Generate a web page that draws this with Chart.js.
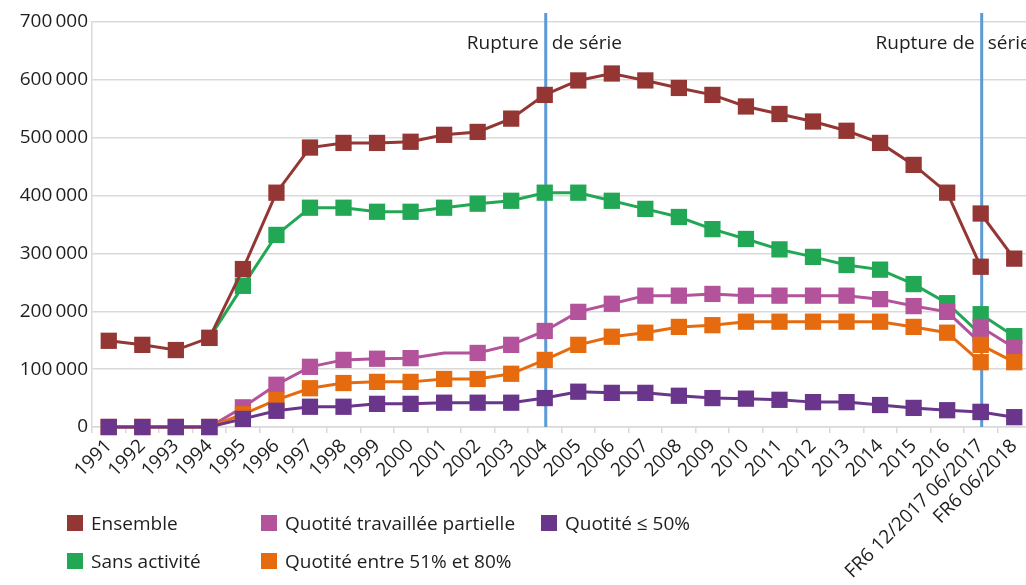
<!DOCTYPE html>
<html lang="fr">
<head>
<meta charset="utf-8">
<script src="https://cdn.jsdelivr.net/npm/chart.js@4.4.1/dist/chart.umd.min.js"></script>
<style>
  html, body { margin: 0; padding: 0; overflow: hidden; background: #fff; }
  #wrap { position: relative; width: 1031px; height: 585px; }
  #legend { position: absolute; left: 0; top: 0; font-family: "Open Sans"; font-size: 19px; color: #1e1e1e; }
  .item { position: absolute; display: flex; align-items: center; height: 24px; white-space: nowrap; }
  .box { width: 16px; height: 16px; margin-right: 8px; }
</style>
</head>
<body>
<div id="wrap">
  <canvas id="myChart" width="1031" height="585"></canvas>
  <div id="legend"></div>
</div>
<script>
const labels = ['1991','1992','1993','1994','1995','1996','1997','1998','1999','2000',
  '2001','2002','2003','2004','2005','2006','2007','2008','2009','2010',
  '2011','2012','2013','2014','2015','2016','FR6 12/2017 06/2017','FR6 06/2018'];

// ancienne série : 1991 -> 06/2017
const ensemble = [149000,142000,133000,154000,273000,405000,483000,491000,491000,493000,
  505000,510000,533000,574000,599000,611000,599000,586000,574000,554000,
  541000,528000,512000,491000,453000,405000,277000];
const sansActivite = [null,null,null,154000,244000,332000,379000,379000,372000,372000,
  379000,386000,391000,405000,405000,391000,377000,363000,342000,325000,
  307000,294000,280000,272000,247000,214000,160000];
const quotitePartielle = [0,0,0,0,34000,73000,104000,116000,118000,119000,
  128000,128000,142000,166000,199000,213000,227000,227000,230000,227000,
  227000,227000,227000,221000,209000,199000,145000];
const quotite5180 = [0,0,0,0,22000,47000,67000,76000,78000,78000,
  83000,83000,92000,116000,142000,156000,163000,173000,176000,182000,
  182000,182000,182000,182000,173000,163000,112000];
const quotite50 = [0,0,0,0,14000,28000,35000,35000,40000,40000,
  42000,42000,42000,50000,61000,59000,59000,54000,50000,49000,
  47000,43000,43000,38000,33000,29000,26000];

// nouvelle série FR6 : 12/2017 et 06/2018
const ensembleFR6 = [369000, 291000];
const sansActiviteFR6 = [195000, 157000];
const quotitePartielleFR6 = [173000, 137000];
const quotite5180FR6 = [142000, 112000];
const quotite50FR6 = [26000, 17000];

const ruptures = [
  { index: 13, left: 'Rupture', right: 'de série' },
  { index: 26, left: 'Rupture de', right: 'série' }
];

const series = [
  { label: 'Ensemble', color: '#943634', data: ensemble, fr6: ensembleFR6, order: 3, pos: [67, 523] },
  { label: 'Sans activité', color: '#22a855', data: sansActivite, fr6: sansActiviteFR6, order: 4, pos: [67, 561] },
  { label: 'Quotité travaillée partielle', color: '#b2539b', data: quotitePartielle, fr6: quotitePartielleFR6, order: 2, pos: [261, 523] },
  { label: 'Quotité entre 51% et 80%', color: '#e66b0e', data: quotite5180, fr6: quotite5180FR6, order: 1, pos: [261, 561] },
  { label: 'Quotité ≤ 50%', color: '#6a368b', data: quotite50, fr6: quotite50FR6, order: 0, pos: [541, 523] }
];

function lineSet(s, data) {
  return {
    label: s.label,
    data: data,
    borderColor: s.color,
    backgroundColor: s.color,
    borderWidth: 3,
    pointStyle: 'rect',
    pointRadius: ctx => (s.label === 'Quotité travaillée partielle' && ctx.dataIndex === 10) ? 0 : 11.5,
    pointBorderWidth: 0,
    pointBackgroundColor: s.color,
    tension: 0,
    clip: false,
    order: s.order
  };
}

let datasets = [];
series.forEach(s => {
  datasets.push(lineSet(s, s.data.concat([null])));
  datasets.push(lineSet(s, Array(labels.length - 2).fill(null).concat(s.fr6)));
});

const fmt = v => String(v).replace(/\B(?=(\d{3})+$)/g, '\u2009');

const rupturePlugin = {
  id: 'rupture',
  beforeDatasetsDraw(chart) {
    const { ctx, chartArea, scales } = chart;
    ctx.save();
    ruptures.forEach(r => {
      const px = scales.x.getPixelForValue(r.index) + 1;
      ctx.strokeStyle = '#5b9bd5';
      ctx.lineWidth = 3;
      ctx.beginPath();
      ctx.moveTo(px, 13);
      ctx.lineTo(px, chartArea.bottom);
      ctx.stroke();
      ctx.font = '19px "Open Sans"';
      ctx.fillStyle = '#1e1e1e';
      ctx.textBaseline = 'middle';
      ctx.textAlign = 'right';
      ctx.fillText(r.left, px - 7, 44);
      ctx.textAlign = 'left';
      ctx.fillText(r.right, px + 6, 44);
    });
    ctx.restore();
  }
};

Chart.defaults.font.family = '"Open Sans"';
Chart.defaults.font.size = 19;
Chart.defaults.color = '#1e1e1e';

const ctx = document.getElementById('myChart');
let myChart = new Chart(ctx, {
  type: 'line',
  data: { labels: labels, datasets: datasets },
  options: {
    responsive: false,
    animation: false,
    layout: { autoPadding: false, padding: { top: 22, right: 0, bottom: 0, left: 0 } },
    plugins: { legend: { display: false }, tooltip: { enabled: false } },
    scales: {
      x: {
        offset: true,
        grid: { offset: true, drawOnChartArea: false, tickLength: 6, color: '#d9d9d9', lineWidth: 1.5 },
        border: { color: '#d9d9d9', width: 1.5 },
        ticks: { minRotation: 45, maxRotation: 45, autoSkip: false, padding: 2 },
        afterFit: s => { s.height = 158; s.paddingLeft = 0; s.paddingRight = 0; }
      },
      y: {
        min: 0,
        max: 700000,
        ticks: { stepSize: 100000, padding: 4, callback: v => fmt(v) },
        grid: { color: '#d9d9d9', lineWidth: 1.5, drawTicks: false },
        border: { color: '#d9d9d9', width: 1.5 },
        afterFit: s => { s.width = 92; }
      }
    }
  },
  plugins: [rupturePlugin]
});

// légende
const legend = document.getElementById('legend');
series.forEach(s => {
  const item = document.createElement('div');
  item.className = 'item';
  item.style.left = s.pos[0] + 'px';
  item.style.top = (s.pos[1] - 12) + 'px';
  const box = document.createElement('span');
  box.className = 'box';
  box.style.background = s.color;
  item.appendChild(box);
  item.appendChild(document.createTextNode(s.label));
  legend.appendChild(item);
});
</script>
</body>
</html>
